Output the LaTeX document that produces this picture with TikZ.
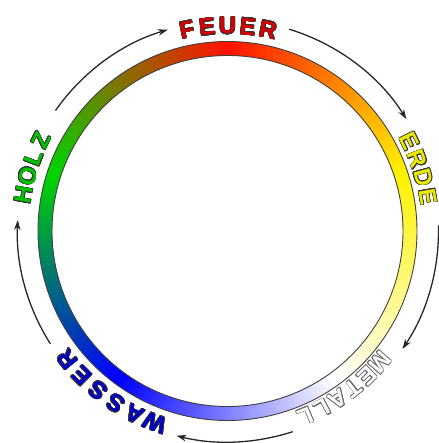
\documentclass[tikz,border=0pt]{standalone}
\usepackage{fontspec}
\setmainfont{Liberation Sans}
\usepackage{contour}
\contourlength{0.6pt}
\usetikzlibrary{arrows.meta}
\definecolor{ringred}{HTML}{FF1400}
\definecolor{ringyellow}{HTML}{FFF200}
\definecolor{ringblue}{HTML}{0000FF}
\definecolor{ringgreen}{HTML}{00D400}
\definecolor{txtred}{HTML}{D80000}
\definecolor{txtyellow}{HTML}{EAEA00}
\definecolor{txtblue}{HTML}{0000C8}
\definecolor{txtgreen}{HTML}{00C400}

\begin{document}
\begin{tikzpicture}[>=Stealth,
  letter/.style={inner sep=0pt, font=\fontsize{24}{24}\selectfont\bfseries},
  flow/.style={draw=black!85, line width=1.3bp, -{Stealth[length=10bp, width=6.5bp]}},
  rim/.style={draw=black!75, line width=0.9bp}]
  \useasboundingbox (-227.5bp,-212bp) rectangle (211.5bp,231bp);

  % Farbring
  \foreach \s/\ca/\cb in {90/ringred/ringyellow, 18/ringyellow/white, -54/white/ringblue, -126/ringblue/ringgreen, 162/ringgreen/ringred}
    \foreach \t in {0,...,71} {
      \pgfmathtruncatemacro\pct{round(100*\t/71)}
      \colorlet{segcol}{\cb!\pct!\ca}
      \draw[line width=14bp, segcol] ({\s-\t}:182.5bp) arc[start angle={\s-\t}, end angle={\s-\t-1.4}, radius=182.5bp];
    }
  \draw[rim] (0,0) circle[radius=189.5bp];
  \draw[rim] (0,0) circle[radius=175.5bp];

  % Feuer
  \foreach \ch [count=\i, evaluate=\i as \a using 90+(3-\i)*5.7] in {F,E,U,E,R}
    \node[letter, text=txtred, rotate=\a-90] (feuer-\i) at (\a:205bp) {\contour{black!80}{\ch}};
  % Erde
  \foreach \ch [count=\i, evaluate=\i as \a using 18+(2.5-\i)*5.5] in {E,R,D,E}
    \node[letter, text=txtyellow, rotate=\a-90] (erde-\i) at (\a:203bp) {\contour{black!80}{\ch}};
  % Metall
  \foreach \ch [count=\i, evaluate=\i as \a using -54+(3.5-\i)*5.3] in {M,E,T,A,L,L}
    \node[letter, text=white, rotate=\a-90] (metall-\i) at (\a:201bp) {\contour{black!60}{\ch}};
  % Wasser
  \foreach \ch [count=\i, evaluate=\i as \a using -126+(3.5-\i)*6.1] in {W,A,S,S,E,R}
    \node[letter, text=txtblue, rotate=\a-90] (wasser-\i) at (\a:205bp) {\contour{black!80}{\ch}};
  % Holz
  \foreach \ch [count=\i, evaluate=\i as \a using 162+(2.5-\i)*5.3] in {H,O,L,Z}
    \node[letter, text=txtgreen, rotate=\a-90] (holz-\i) at (\a:207bp) {\contour{black!80}{\ch}};

  % Kreislauf
  \coordinate (holz-out) at (145:210bp);
  \coordinate (feuer-out) at (73:211bp);
  \coordinate (erde-out) at (1.5:211bp);
  \coordinate (metall-out) at (-72:211bp);
  \coordinate (wasser-out) at (-147.5:210bp);
  \draw[flow] (holz-out) arc[start angle=145, end angle=106.5, radius=210bp];
  \draw[flow] (feuer-out) arc[start angle=73, end angle=32, radius=211bp];
  \draw[flow] (erde-out) arc[start angle=1.5, end angle=-34, radius=211bp];
  \draw[flow] (metall-out) arc[start angle=-72, end angle=-104, radius=211bp];
  \draw[flow] (wasser-out) arc[start angle=-147.5, end angle=-183, radius=210bp];
\end{tikzpicture}
\end{document}
